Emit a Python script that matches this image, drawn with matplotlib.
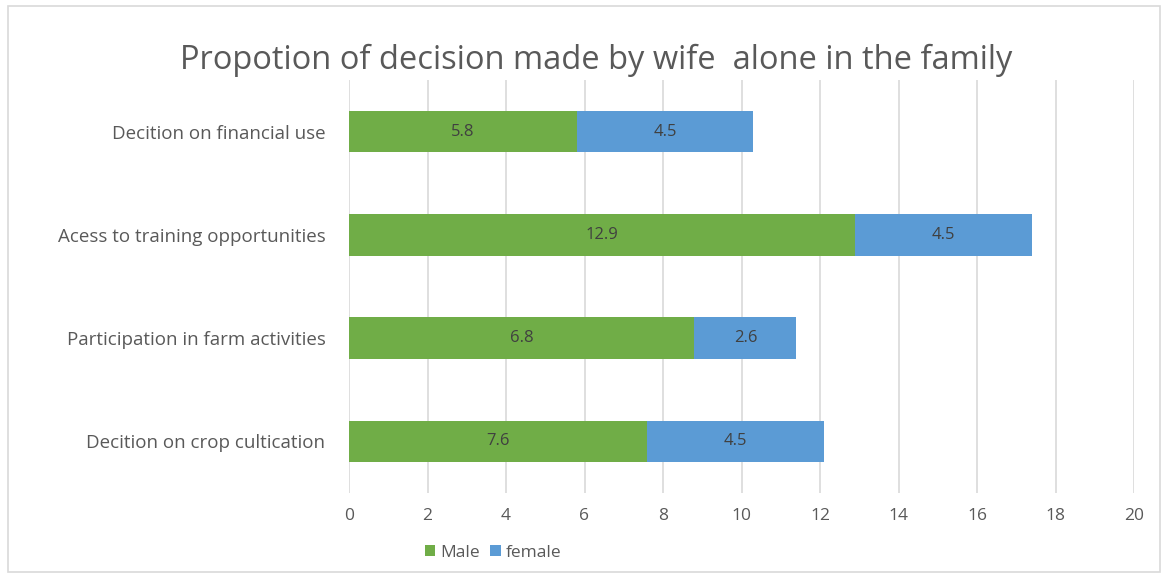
import matplotlib
matplotlib.use("Agg")
import matplotlib.pyplot as plt
from matplotlib.patches import Rectangle

categories = [
    "Decition on financial use",
    "Acess to training opportunities",
    "Participation in farm activities",
    "Decition on crop cultication",
]
male = [5.8, 12.9, 8.8, 7.6]
female = [4.5, 4.5, 2.6, 4.5]
male_labels = ["5.8", "12.9", "6.8", "7.6"]
female_labels = ["4.5", "4.5", "2.6", "4.5"]
x_ticks = list(range(0, 21, 2))

GREEN = "#70AD47"
BLUE = "#5B9BD5"
TEXT = "#595959"

plt.rcParams["font.family"] = ["Open Sans", "DejaVu Sans"]

fig = plt.figure(figsize=(11.65, 5.78), dpi=100)
fig.patches.append(Rectangle((8 / 1165, 6 / 578), 1152 / 1165, 566 / 578,
                             transform=fig.transFigure, fill=False,
                             edgecolor="#D9D9D9", linewidth=1.2))

ax = fig.add_axes([349 / 1165, 1 - 493 / 578, 785 / 1165, 413 / 578])
y = list(range(len(categories)))

bm = ax.barh(y, male, height=0.4, color=GREEN, label="Male", zorder=3)
bf = ax.barh(y, female, left=male, height=0.4, color=BLUE, label="female", zorder=3)

ax.bar_label(bm, labels=male_labels, label_type="center", color="#404040", fontsize=12)
ax.bar_label(bf, labels=female_labels, label_type="center", color="#404040", fontsize=12)

ax.set_xlim(0, 20)
ax.set_ylim(3.5, -0.5)
ax.set_xticks(x_ticks)
ax.set_yticks(y)
ax.set_yticklabels(categories, fontsize=13.5)
ax.tick_params(axis="both", length=0, colors=TEXT)
ax.tick_params(axis="x", labelsize=12.5, pad=11)
ax.tick_params(axis="y", pad=17)
ax.grid(axis="x", color="#D9D9D9", linewidth=1.2, zorder=0)
for s in ax.spines.values():
    s.set_visible(False)

fig.text(596 / 1165, 1 - 60 / 578, "Propotion of decision made by wife  alone in the family",
         ha="center", va="center", fontsize=23.5, color=TEXT)

fig.legend(handles=[bm, bf], loc="center", bbox_to_anchor=(493 / 1165, 1 - 553 / 578),
           ncol=2, frameon=False, fontsize=12.5, labelcolor=TEXT,
           handlelength=0.6, handleheight=0.6, handletextpad=0.3, columnspacing=0.6)

fig.savefig("out.png", dpi=100)
